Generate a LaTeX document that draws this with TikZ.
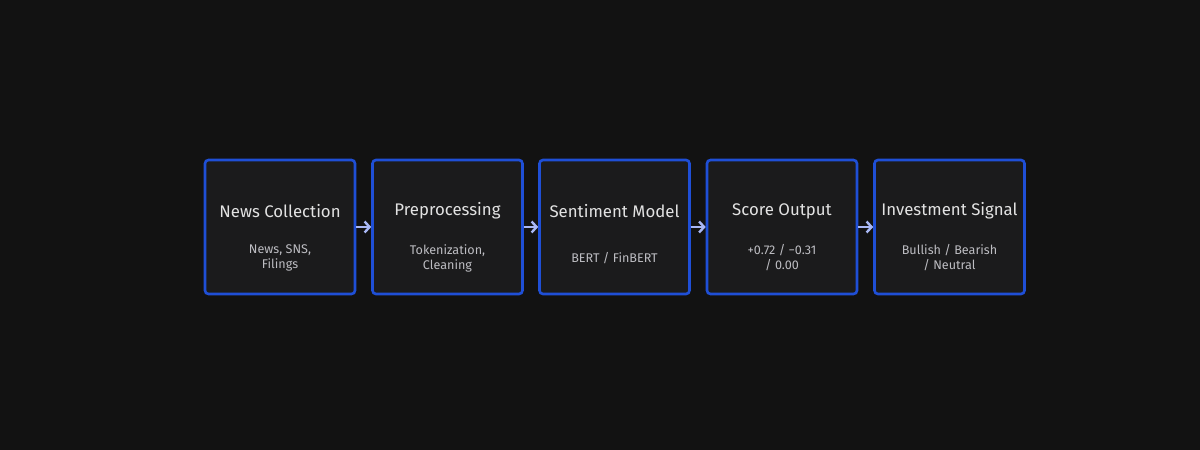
\documentclass[tikz,border=0pt]{standalone}
\usepackage{fontspec}
\setmainfont{Fira Sans}
\usetikzlibrary{arrows.meta}
\definecolor{bg}{HTML}{121212}
\definecolor{boxfill}{HTML}{1B1B1C}
\definecolor{boxline}{HTML}{1F4FD6}
\definecolor{arrowc}{HTML}{A9B8F5}
\definecolor{titlec}{HTML}{E2E2E2}
\definecolor{subc}{HTML}{BDBDC2}
\begin{document}
\begin{tikzpicture}[x=1pt,y=1pt,
  stage/.style={draw=boxline, line width=2.6pt, fill=boxfill, rounded corners=3.5pt,
    minimum width=150pt, minimum height=134pt, inner sep=0pt},
  ttl/.style={text=titlec, font=\fontsize{16.8}{19}\selectfont},
  sub/.style={text=subc, font=\fontsize{12.6}{15}\selectfont, align=center},
  conn/.style={draw=arrowc, line width=2.2pt, -{Straight Barb[length=5pt,width=11pt,line width=2.4pt]}}]
\fill[bg] (0,0) rectangle (1200,450);
\useasboundingbox (0,0) rectangle (1200,450);
\foreach \i/\x/\t/\s in {1/280/News Collection/{News, SNS,\\Filings},
                         2/447.5/Preprocessing/{Tokenization,\\Cleaning},
                         3/614.5/Sentiment Model/{BERT / FinBERT},
                         4/782/Score Output/{+0.72 / −0.31\\/ 0.00},
                         5/949.5/Investment Signal/{Bullish / Bearish\\/ Neutral}} {
  \node[stage] (b\i) at (\x,223) {};
  \node[ttl] (t\i) at (\x,239) {\t};
  \node[sub] (s\i) at (\x,192) {\s};
}
\draw[conn] (b1.east) -- (b2.west);
\draw[conn] (b2.east) -- (b3.west);
\draw[conn] (b3.east) -- (b4.west);
\draw[conn] (b4.east) -- (b5.west);
\end{tikzpicture}
\end{document}
